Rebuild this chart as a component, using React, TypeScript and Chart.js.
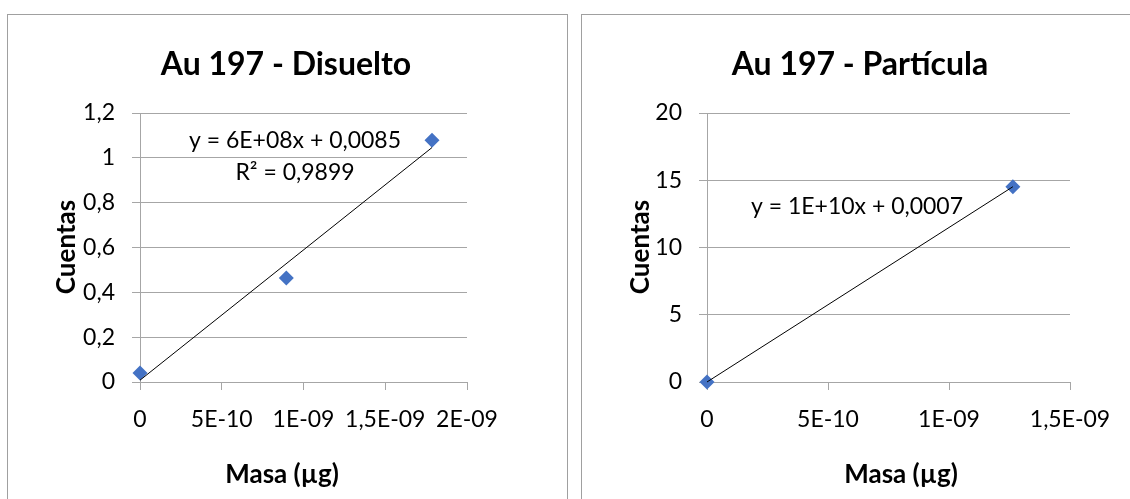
import React, { useEffect, useRef } from "react";
import { Chart, registerables } from "chart.js";

Chart.register(...registerables);

const FONT = "Lato, 'Open Sans', sans-serif";
const GRID = "#a6a6a6";
const MARKER = "#4472c4";
const TICK_SIZE = 23;
const AXIS_TITLE_SIZE = 26;
const TITLE_SIZE = 32;

// Au 197 – disuelto
const disueltoMasa = [0, 8.95e-10, 1.786e-9];
const disueltoCuentas = [0.04, 0.464, 1.078];
const disueltoXTicks = [0, 5e-10, 1e-9, 1.5e-9, 2e-9];
const disueltoXLabels = ["0", "5E-10", "1E-09", "1,5E-09", "2E-09"];
const disueltoYTicks = [0, 0.2, 0.4, 0.6, 0.8, 1, 1.2];
const disueltoYLabels = ["0", "0,2", "0,4", "0,6", "0,8", "1", "1,2"];
const disueltoEcuacion = ["y = 6E+08x + 0,0085", "R² = 0,9899"];

// Au 197 – partícula
const particulaMasa = [0, 1.264e-9];
const particulaCuentas = [0.0007, 14.52];
const particulaXTicks = [0, 5e-10, 1e-9, 1.5e-9];
const particulaXLabels = ["0", "5E-10", "1E-09", "1,5E-09"];
const particulaYTicks = [0, 5, 10, 15, 20];
const particulaYLabels = ["0", "5", "10", "15", "20"];
const particulaEcuacion = ["y = 1E+10x + 0,0007"];

const xTitle = "Masa (µg)";
const yTitle = "Cuentas";

// least-squares straight line through the measured points
function linearFit(xs: number[], ys: number[]) {
  const n = xs.length;
  const mx = xs.reduce((a, b) => a + b, 0) / n;
  const my = ys.reduce((a, b) => a + b, 0) / n;
  let sxy = 0;
  let sxx = 0;
  for (let i = 0; i < n; i++) {
    sxy += (xs[i] - mx) * (ys[i] - my);
    sxx += (xs[i] - mx) * (xs[i] - mx);
  }
  const slope = sxy / sxx;
  return { slope, intercept: my - slope * mx };
}

type Pt = [number, number];

interface PanelProps {
  title: string;
  masa: number[];
  cuentas: number[];
  xTicks: number[];
  xLabels: string[];
  yTicks: number[];
  yLabels: string[];
  ecuacion: string[];
  width: number;
  height: number;
  area: { left: number; top: number; right: number; bottom: number };
  titleAt: Pt; // centre x, baseline y
  yTitleAt: Pt; // baseline x, centre y
  xTitleAt: Pt; // centre x, baseline y
  eqAt: Pt; // centre x, first baseline y
  eqGap: number;
}

function CalibrationChart(p: PanelProps) {
  const ref = useRef<HTMLCanvasElement>(null);

  useEffect(() => {
    if (!ref.current) return;
    const fit = linearFit(p.masa, p.cuentas);
    const x0 = Math.min(...p.masa);
    const x1 = Math.max(...p.masa);
    const trend = [
      { x: x0, y: fit.intercept + fit.slope * x0 },
      { x: x1, y: fit.intercept + fit.slope * x1 },
    ];
    const points = p.masa.map((x, i) => ({ x, y: p.cuentas[i] }));
    const tickFont = { family: FONT, size: TICK_SIZE };

    const textPlugin = {
      id: "panelText",
      afterDraw(chart: Chart) {
        const ctx = chart.ctx;
        ctx.save();
        ctx.fillStyle = "#000";
        ctx.textAlign = "center";
        ctx.textBaseline = "alphabetic";

        ctx.font = `bold ${TITLE_SIZE}px ${FONT}`;
        ctx.fillText(p.title, p.titleAt[0], p.titleAt[1]);

        ctx.font = `bold ${AXIS_TITLE_SIZE}px ${FONT}`;
        ctx.fillText(xTitle, p.xTitleAt[0], p.xTitleAt[1]);

        ctx.save();
        ctx.translate(p.yTitleAt[0], p.yTitleAt[1]);
        ctx.rotate(-Math.PI / 2);
        ctx.fillText(yTitle, 0, 0);
        ctx.restore();

        ctx.font = `${TICK_SIZE}px ${FONT}`;
        p.ecuacion.forEach((line, i) => {
          ctx.fillText(line, p.eqAt[0], p.eqAt[1] + i * p.eqGap);
        });
        ctx.restore();
      },
    };

    const chart = new Chart(ref.current, {
      type: "scatter",
      data: {
        datasets: [
          {
            type: "line",
            data: trend,
            borderColor: "#000",
            borderWidth: 1,
            pointRadius: 0,
            fill: false,
            clip: false,
            order: 0,
          },
          {
            data: points,
            pointStyle: "rectRot",
            pointRadius: 7.5,
            backgroundColor: MARKER,
            borderColor: MARKER,
            borderWidth: 0,
            clip: false,
            order: 1,
          },
        ],
      },
      options: {
        responsive: false,
        animation: false,
        events: [],
        layout: {
          padding: {
            left: 0,
            top: p.area.top,
            right: p.width - p.area.right,
            bottom: 0,
          },
        },
        plugins: {
          legend: { display: false },
          tooltip: { enabled: false },
          title: { display: false },
        },
        scales: {
          x: {
            type: "linear",
            min: p.xTicks[0],
            max: p.xTicks[p.xTicks.length - 1],
            afterBuildTicks: (s: any) => {
              s.ticks = p.xTicks.map((value) => ({ value }));
            },
            afterFit: (s: any) => {
              s.height = p.height - p.area.bottom;
            },
            ticks: {
              callback: (_v: any, i: number) => p.xLabels[i],
              font: tickFont,
              color: "#000",
              padding: 16,
              maxRotation: 0,
              autoSkip: false,
            },
            grid: {
              display: true,
              drawOnChartArea: false,
              drawTicks: true,
              tickLength: 8,
              color: GRID,
            },
            border: { display: true, color: GRID, width: 1 },
          },
          y: {
            type: "linear",
            min: p.yTicks[0],
            max: p.yTicks[p.yTicks.length - 1],
            afterBuildTicks: (s: any) => {
              s.ticks = p.yTicks.map((value) => ({ value }));
            },
            afterFit: (s: any) => {
              s.width = p.area.left;
            },
            ticks: {
              callback: (_v: any, i: number) => p.yLabels[i],
              font: tickFont,
              color: "#000",
              padding: 17,
              autoSkip: false,
            },
            grid: {
              display: true,
              drawOnChartArea: true,
              drawTicks: true,
              tickLength: 8,
              color: GRID,
            },
            border: { display: true, color: GRID, width: 1 },
          },
        },
      },
      plugins: [textPlugin],
    } as any);

    return () => chart.destroy();
  }, []);

  return (
    <canvas
      ref={ref}
      width={p.width}
      height={p.height}
      style={{ display: "block", width: p.width, height: p.height }}
    />
  );
}

export default function App() {
  const frame: React.CSSProperties = {
    position: "absolute",
    top: 14,
    height: 600,
    border: "1px solid #a0a0a0",
    background: "#fff",
    boxSizing: "border-box",
  };
  return (
    <div
      style={{
        position: "fixed",
        left: 0,
        top: 0,
        width: 1130,
        height: 499,
        overflow: "hidden",
        background: "#fff",
      }}
    >
      <div style={{ ...frame, left: 7, width: 561 }}>
        <CalibrationChart
          title="Au 197 - Disuelto"
          masa={disueltoMasa}
          cuentas={disueltoCuentas}
          xTicks={disueltoXTicks}
          xLabels={disueltoXLabels}
          yTicks={disueltoYTicks}
          yLabels={disueltoYLabels}
          ecuacion={disueltoEcuacion}
          width={558}
          height={484}
          area={{ left: 132, top: 98, right: 459, bottom: 367 }}
          titleAt={[278, 60]}
          yTitleAt={[67, 232]}
          xTitleAt={[274, 468]}
          eqAt={[287, 133]}
          eqGap={32}
        />
      </div>
      <div style={{ ...frame, left: 581, width: 600 }}>
        <CalibrationChart
          title="Au 197 - Partícula"
          masa={particulaMasa}
          cuentas={particulaCuentas}
          xTicks={particulaXTicks}
          xLabels={particulaXLabels}
          yTicks={particulaYTicks}
          yLabels={particulaYLabels}
          ecuacion={particulaEcuacion}
          width={548}
          height={484}
          area={{ left: 125, top: 98, right: 488, bottom: 367 }}
          titleAt={[278, 60]}
          yTitleAt={[67, 232]}
          xTitleAt={[319, 468]}
          eqAt={[275, 199]}
          eqGap={32}
        />
      </div>
    </div>
  );
}
